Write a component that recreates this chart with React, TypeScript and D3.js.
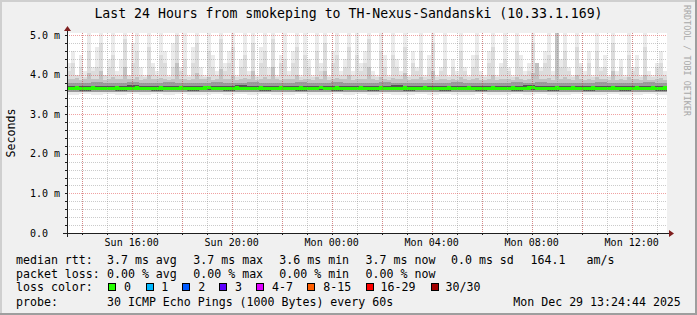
import React from "react";
import * as d3 from "d3";

const W = 697;
const H = 315;
const X0 = 67;
const XSIZE = 600;
const Y0 = 233;
const YSIZE = 200;
const YMAX = 5.05;

const startTime = new Date(Date.UTC(2025, 11, 28, 13, 24, 44));
const endTime = new Date(Date.UTC(2025, 11, 29, 13, 24, 44));

const yTickValues = [0, 1, 2, 3, 4, 5];
const yTickLabels = ["0.0", "1.0 m", "2.0 m", "3.0 m", "4.0 m", "5.0 m"];

// lightest smoke top (ms)
const maxMs = [
  4.3, 4.6, 4.0, 4.5, 4.1, 5.1, 4.2, 4.7, 5.1, 4.0,
  4.4, 5.1, 4.1, 4.4, 5.1, 4.0, 4.8, 5.1, 4.2, 4.0,
  5.1, 4.3, 4.1, 5.1, 4.6, 4.0, 4.8, 5.1, 4.2, 5.1,
  4.0, 4.7, 5.1, 4.2, 4.0, 5.1, 4.5, 4.1, 5.1, 4.3,
  4.6, 5.1, 4.0, 4.4, 5.1, 4.1, 5.1, 4.0, 4.7, 5.1,
  4.2, 5.1, 4.0, 4.5, 5.1, 4.1, 4.6, 5.1, 4.0, 5.1,
  4.4, 4.0, 5.1, 4.3, 5.1, 4.0, 4.6, 5.1, 4.1, 4.4,
  5.1, 4.1, 5.1, 4.3, 4.6, 5.1, 4.1, 4.0, 5.1, 4.5,
  4.0, 5.1, 4.4, 4.1, 5.1, 4.0, 4.6, 4.2, 5.1, 4.0,
  4.5, 5.1, 4.0, 4.2, 5.1, 4.0, 4.4, 4.1, 5.1, 4.2,
  4.0, 4.5, 5.1, 4.1, 4.0, 4.6, 5.1, 4.0, 4.3, 5.1,
  4.2, 4.0, 5.1, 4.5, 4.1, 4.3, 5.1, 4.0, 4.2, 4.6,
  5.1, 4.1, 5.1, 4.4, 5.1, 4.2, 4.0, 5.1, 4.3, 4.1,
  4.6, 4.0, 5.1, 4.2, 4.5, 4.0, 5.1, 4.1, 4.4, 4.0,
  5.1, 4.2, 4.5, 4.0, 5.1, 4.1, 4.0, 4.3, 4.6, 4.1,
];

// medium smoke top (ms)
const hiMs = [
  4.1, 4.3, 4.0, 4.2, 3.95, 4.6, 4.1, 4.2, 4.8, 4.0,
  4.2, 4.5, 4.0, 4.0, 4.9, 4.0, 4.3, 4.6, 4.0, 3.95,
  4.7, 4.2, 4.0, 4.5, 4.3, 3.95, 4.2, 5.0, 4.1, 4.4,
  3.95, 4.3, 4.8, 4.0, 3.95, 4.6, 4.2, 4.0, 4.9, 4.1,
  4.3, 4.7, 3.95, 4.2, 4.5, 4.0, 4.8, 3.95, 4.3, 4.6,
  4.0, 4.9, 3.95, 4.3, 4.4, 4.0, 4.3, 4.7, 3.95, 4.5,
  4.2, 3.95, 4.6, 4.1, 4.8, 3.95, 4.3, 4.5, 4.0, 4.2,
  4.7, 4.0, 4.5, 4.1, 4.3, 4.9, 4.0, 3.95, 4.6, 4.2,
  3.95, 4.5, 4.2, 4.0, 4.7, 3.95, 4.3, 4.1, 4.6, 3.95,
  4.2, 4.8, 3.95, 4.1, 4.4, 3.95, 4.2, 4.0, 4.6, 4.1,
  3.95, 4.2, 4.5, 4.0, 3.95, 4.3, 4.7, 3.95, 4.2, 4.4,
  4.1, 3.95, 4.6, 4.2, 4.0, 4.1, 4.8, 3.95, 4.1, 4.3,
  4.5, 4.0, 4.9, 4.2, 4.6, 4.1, 3.95, 4.7, 4.2, 4.0,
  4.3, 3.95, 4.6, 4.1, 4.2, 3.95, 4.8, 4.0, 4.2, 3.95,
  4.5, 4.1, 4.2, 3.95, 4.7, 4.0, 3.95, 4.2, 4.3, 4.0,
];

// darker smoke top (ms)
const midMs = [
  3.9, 3.88, 3.92, 3.87, 3.9, 4.05, 3.88, 3.9, 4.1, 3.87,
  3.9, 3.95, 3.88, 3.9, 4.2, 3.88, 3.9, 3.93, 3.87, 3.9,
  4.0, 3.88, 3.9, 3.92, 3.88, 3.87, 3.9, 4.3, 3.88, 3.9,
  3.87, 3.9, 4.05, 3.88, 3.9, 3.95, 3.87, 3.88, 4.15, 3.9,
  3.88, 3.97, 3.87, 3.9, 3.92, 3.88, 4.1, 3.87, 3.9, 3.93,
  3.88, 4.2, 3.9, 3.87, 3.9, 3.88, 3.9, 4.0, 3.87, 3.9,
  3.88, 3.87, 3.95, 3.9, 4.1, 3.87, 3.88, 3.92, 3.9, 3.88,
  4.0, 3.87, 3.9, 3.88, 3.9, 4.2, 3.88, 3.87, 3.95, 3.9,
  3.87, 3.92, 3.88, 3.9, 4.05, 3.87, 3.9, 3.88, 3.93, 3.87,
  3.9, 4.1, 3.87, 3.88, 3.9, 3.86, 3.88, 3.87, 3.95, 3.88,
  3.87, 3.9, 3.92, 3.87, 3.86, 3.9, 4.0, 3.87, 3.88, 3.9,
  3.88, 3.87, 3.95, 3.9, 3.87, 3.88, 4.05, 4.3, 3.88, 3.9,
  3.92, 3.87, 5.1, 3.9, 3.95, 3.88, 3.86, 4.0, 3.88, 3.87,
  3.9, 3.87, 3.95, 3.88, 3.9, 3.86, 4.1, 3.87, 3.88, 3.87,
  3.93, 3.88, 3.9, 3.86, 4.0, 3.87, 3.87, 3.9, 3.92, 3.87,
];

// lower edges and dark core, 50 bins (ms)
const minMs = [
  3.49, 3.5, 3.48, 3.5, 3.49, 3.51, 3.48, 3.5, 3.49, 3.5,
  3.48, 3.49, 3.5, 3.48, 3.51, 3.49, 3.5, 3.48, 3.49, 3.5,
  3.49, 3.48, 3.5, 3.49, 3.51, 3.48, 3.5, 3.49, 3.48, 3.5,
  3.49, 3.5, 3.48, 3.49, 3.5, 3.48, 3.49, 3.51, 3.48, 3.5,
  3.49, 3.48, 3.5, 3.49, 3.48, 3.5, 3.49, 3.48, 3.5, 3.49,
];
const loMs = [
  3.56, 3.57, 3.55, 3.57, 3.56, 3.57, 3.55, 3.56, 3.57, 3.56,
  3.55, 3.56, 3.57, 3.55, 3.57, 3.56, 3.56, 3.55, 3.57, 3.56,
  3.56, 3.55, 3.57, 3.56, 3.57, 3.55, 3.56, 3.57, 3.55, 3.56,
  3.56, 3.57, 3.55, 3.56, 3.57, 3.55, 3.56, 3.57, 3.55, 3.56,
  3.57, 3.55, 3.56, 3.56, 3.55, 3.57, 3.56, 3.55, 3.57, 3.56,
];
const upMs = [
  3.8, 3.79, 3.81, 3.78, 3.8, 3.82, 3.79, 3.8, 3.81, 3.79,
  3.8, 3.78, 3.81, 3.8, 3.79, 3.82, 3.8, 3.78, 3.8, 3.81,
  3.79, 3.8, 3.81, 3.78, 3.8, 3.79, 3.82, 3.8, 3.79, 3.8,
  3.78, 3.8, 3.81, 3.79, 3.8, 3.78, 3.8, 3.81, 3.79, 3.82,
  3.8, 3.79, 3.8, 3.78, 3.81, 3.8, 3.79, 3.8, 3.81, 3.79,
];
const coreLoMs = [
  3.6, 3.59, 3.6, 3.6, 3.59, 3.6, 3.6, 3.59, 3.6, 3.6,
  3.59, 3.6, 3.6, 3.59, 3.6, 3.6, 3.59, 3.6, 3.6, 3.59,
  3.6, 3.6, 3.59, 3.6, 3.6, 3.59, 3.6, 3.6, 3.59, 3.6,
  3.6, 3.59, 3.6, 3.6, 3.59, 3.6, 3.6, 3.59, 3.6, 3.6,
  3.59, 3.6, 3.6, 3.59, 3.6, 3.6, 3.59, 3.6, 3.6, 3.59,
];
const coreHiMs = [
  3.71, 3.72, 3.7, 3.72, 3.71, 3.73, 3.7, 3.72, 3.71, 3.72,
  3.71, 3.7, 3.72, 3.71, 3.73, 3.71, 3.7, 3.72, 3.71, 3.72,
  3.7, 3.71, 3.72, 3.71, 3.7, 3.72, 3.71, 3.73, 3.71, 3.7,
  3.72, 3.71, 3.7, 3.72, 3.71, 3.7, 3.72, 3.71, 3.73, 3.71,
  3.7, 3.72, 3.71, 3.7, 3.72, 3.71, 3.7, 3.72, 3.71, 3.72,
];

const medianMs = [
  3.65, 3.64, 3.66, 3.65, 3.64, 3.65, 3.66, 3.64, 3.65, 3.65,
  3.64, 3.65, 3.66, 3.65, 3.64, 3.64, 3.65, 3.66, 3.65, 3.64,
  3.65, 3.65, 3.64, 3.66, 3.65, 3.64, 3.65, 3.65, 3.66, 3.65,
  3.64, 3.65, 3.65, 3.64, 3.66, 3.67, 3.65, 3.64, 3.65, 3.65,
  3.64, 3.65, 3.66, 3.65, 3.64, 3.65, 3.65, 3.64, 3.66, 3.65,
  3.65, 3.64, 3.65, 3.66, 3.65, 3.64, 3.64, 3.65, 3.66, 3.65,
  3.64, 3.65, 3.65, 3.67, 3.65, 3.64, 3.65, 3.66, 3.65, 3.64,
  3.65, 3.65, 3.64, 3.66, 3.65, 3.65, 3.64, 3.65, 3.66, 3.65,
  3.64, 3.65, 3.65, 3.64, 3.66, 3.65, 3.64, 3.65, 3.65, 3.66,
  3.65, 3.64, 3.65, 3.65, 3.64, 3.66, 3.65, 3.65, 3.64, 3.65,
  3.66, 3.65, 3.64, 3.65, 3.65, 3.64, 3.66, 3.65, 3.65, 3.64,
  3.65, 3.66, 3.65, 3.64, 3.65, 3.66, 3.67, 3.65, 3.64, 3.65,
  3.65, 3.64, 3.66, 3.65, 3.64, 3.65, 3.66, 3.65, 3.65, 3.64,
  3.65, 3.66, 3.65, 3.64, 3.65, 3.65, 3.66, 3.64, 3.65, 3.65,
  3.64, 3.65, 3.66, 3.65, 3.65, 3.64, 3.66, 3.65, 3.65, 3.66,
];

const title = "Last 24 Hours from smokeping to TH-Nexus-Sandanski (10.33.1.169)";

const rttRow = [
  { text: "median rtt:", x: 16 },
  { text: "3.7 ms avg", x: 107 },
  { text: "3.7 ms max", x: 193.3 },
  { text: "3.6 ms min", x: 279.3 },
  { text: "3.7 ms now", x: 365.6 },
  { text: "0.0 ms sd", x: 451 },
  { text: "164.1", x: 530.6 },
  { text: "am/s", x: 586.6 },
];
const lossRow = [
  { text: "packet loss:", x: 16 },
  { text: "0.00 % avg", x: 107 },
  { text: "0.00 % max", x: 193.3 },
  { text: "0.00 % min", x: 279.3 },
  { text: "0.00 % now", x: 365.6 },
];
const lossColors = [
  { label: "0", color: "#26ff00", bx: 108.3, tx: 124 },
  { label: "1", color: "#00b8ff", bx: 145.6, tx: 161.3 },
  { label: "2", color: "#0059ff", bx: 182.3, tx: 198.3 },
  { label: "3", color: "#5e00ff", bx: 219, tx: 235 },
  { label: "4-7", color: "#dd00ff", bx: 256.3, tx: 272 },
  { label: "8-15", color: "#ff5e00", bx: 307.3, tx: 323.3 },
  { label: "16-29", color: "#ff0000", bx: 365.6, tx: 380.6 },
  { label: "30/30", color: "#a10000", bx: 430.6, tx: 445.6 },
];
const probeText = "30 ICMP Echo Pings (1000 Bytes) every 60s";
const stampText = "Mon Dec 29 13:24:44 2025";

const MONO = "'DejaVu Sans Mono', monospace";

function bins(values: number[], x: d3.ScaleTime<number, number>) {
  const n = values.length;
  const span = endTime.getTime() - startTime.getTime();
  return values.map((v, i) => {
    const t0 = new Date(startTime.getTime() + (span * i) / n);
    const t1 = new Date(startTime.getTime() + (span * (i + 1)) / n);
    return { v, i, x0: x(t0), x1: x(t1) };
  });
}

export default function App() {
  const x = d3.scaleTime().domain([startTime, endTime]).range([X0, X0 + XSIZE]);
  const y = d3.scaleLinear().domain([0, YMAX]).range([Y0, Y0 - YSIZE]);

  const minorX = d3.utcHour.every(1)!.range(startTime, endTime);
  const majorX = d3.utcHour.every(2)!.range(startTime, endTime);
  const labelX = d3.utcHour.every(4)!.range(startTime, endTime);
  const fmt = d3.utcFormat("%a %H:%M");

  const minorY = d3.range(1, 26).map((k) => k * 0.2).filter((v) => Math.abs(v - Math.round(v)) > 1e-6);

  const layer = (top: number[], bottom: number[], color: string, key: string) => {
    const tb = bins(top, x);
    const n = top.length;
    const m = bottom.length;
    return tb.map((b) => {
      const lo = bottom[Math.floor((b.i * m) / n)];
      const yt = y(Math.min(b.v, YMAX + 0.1));
      const yb = y(lo);
      return <rect key={key + b.i} x={b.x0} y={yt} width={b.x1 - b.x0} height={yb - yt} fill={color} />;
    });
  };

  const lowerLayer = (top: number[], bottom: number[], color: string, key: string) => {
    const bb = bins(bottom, x);
    return bb.map((b) => {
      const yt = y(top[b.i]);
      const yb = y(b.v);
      return <rect key={key + b.i} x={b.x0} y={yt} width={b.x1 - b.x0} height={yb - yt} fill={color} />;
    });
  };

  const medBins = bins(medianMs, x);
  const medPts = medBins.map((b) => ({ x: b.x0, v: b.v }));
  medPts.push({ x: X0 + XSIZE, v: medianMs[medianMs.length - 1] });
  const medArea = d3
    .area<{ x: number; v: number }>()
    .x((d) => d.x)
    .y0((d) => y(d.v) + 1.6)
    .y1((d) => y(d.v) - 1.6)
    .curve(d3.curveStepAfter);

  return (
    <div style={{ position: "absolute", left: 0, top: 0 }}>
      <svg width={W} height={H} xmlns="http://www.w3.org/2000/svg" style={{ display: "block" }}>
        <defs>
          <clipPath id="plot">
            <rect x={X0} y={Y0 - YSIZE} width={XSIZE} height={YSIZE} />
          </clipPath>
        </defs>
        <rect x={0} y={0} width={W} height={H} fill="#f0f0f0" />
        {/* frame shades */}
        <rect x={0} y={0} width={W} height={2} fill="#cfcfcf" />
        <rect x={0} y={0} width={2} height={H} fill="#cfcfcf" />
        <rect x={0} y={H - 2} width={W} height={2} fill="#9e9e9e" />
        <rect x={W - 2} y={0} width={2} height={H} fill="#9e9e9e" />

        <rect x={X0} y={Y0 - YSIZE} width={XSIZE} height={YSIZE} fill="#ffffff" />

        <g clipPath="url(#plot)" shapeRendering="crispEdges">
          {layer(maxMs, minMs, "#ebebeb", "a")}
          {layer(hiMs, loMs, "#dcdcdc", "b")}
          {layer(midMs, loMs, "#c2c2c2", "c")}
          {lowerLayer(upMs, loMs, "#9c9c9c", "d")}
          {lowerLayer(coreHiMs, coreLoMs, "#555555", "e")}
          <path d={medArea(medPts) || ""} fill="#26ff00" />
        </g>

        {/* grid */}
        <g shapeRendering="crispEdges" strokeDasharray="1,1">
          {minorX.map((t, i) => (
            <line key={"mx" + i} x1={x(t) + 0.5} x2={x(t) + 0.5} y1={Y0 - YSIZE} y2={Y0} stroke="rgba(140,140,140,0.45)" />
          ))}
          {minorY.map((v, i) => (
            <line key={"my" + i} x1={X0} x2={X0 + XSIZE} y1={Math.round(y(v)) + 0.5} y2={Math.round(y(v)) + 0.5} stroke="rgba(140,140,140,0.45)" />
          ))}
          {majorX.map((t, i) => (
            <line key={"Mx" + i} x1={x(t) + 0.5} x2={x(t) + 0.5} y1={Y0 - YSIZE} y2={Y0} stroke="rgba(222,48,48,0.45)" />
          ))}
          {yTickValues.slice(1).map((v, i) => (
            <line key={"My" + i} x1={X0} x2={X0 + XSIZE} y1={Math.round(y(v)) + 0.5} y2={Math.round(y(v)) + 0.5} stroke="rgba(222,48,48,0.45)" />
          ))}
        </g>

        {/* ticks */}
        <g shapeRendering="crispEdges" stroke="#1f1f1f">
          {minorX.map((t, i) => (
            <line key={"tx" + i} x1={x(t) + 0.5} x2={x(t) + 0.5} y1={Y0} y2={Y0 + 2} />
          ))}
          {minorY.concat(yTickValues).map((v, i) => (
            <line key={"ty" + i} x1={X0 - 2} x2={X0} y1={Math.round(y(v)) + 0.5} y2={Math.round(y(v)) + 0.5} />
          ))}
        </g>

        {/* axes */}
        <g shapeRendering="crispEdges" stroke="#1f1f1f">
          <line x1={X0 - 4} x2={X0 + XSIZE + 4} y1={Y0 + 0.5} y2={Y0 + 0.5} />
          <line x1={X0 + 0.5} x2={X0 + 0.5} y1={Y0 + 4} y2={Y0 - YSIZE - 4} />
        </g>
        <path d={`M${X0 + XSIZE + 2},${Y0 - 3} L${X0 + XSIZE + 7},${Y0 + 0.5} L${X0 + XSIZE + 2},${Y0 + 4} Z`} fill="#7f1f1f" />
        <path d={`M${X0 - 3},${Y0 - YSIZE - 2} L${X0 + 0.5},${Y0 - YSIZE - 7} L${X0 + 4},${Y0 - YSIZE - 2} Z`} fill="#7f1f1f" />

        {/* y labels */}
        <g fontFamily={MONO} fontSize={10} fill="#000">
          {yTickValues.map((v, i) => (
            <text key={"yl" + i} x={30} y={y(v) + 3.6}>
              {yTickLabels[i]}
            </text>
          ))}
          {labelX.map((t, i) => (
            <text key={"xl" + i} x={x(t)} y={246} textAnchor="middle">
              {fmt(t)}
            </text>
          ))}
        </g>

        <text x={W / 2} y={18} textAnchor="middle" fontFamily={MONO} fontSize={13.2} fill="#000">
          {title}
        </text>
        <text
          transform={`translate(14.5,133) rotate(-90)`}
          textAnchor="middle"
          fontFamily={MONO}
          fontSize={11.6}
          fill="#000"
        >
          Seconds
        </text>
        <text
          transform={`translate(684,5) rotate(90)`}
          fontFamily={MONO}
          fontSize={8.4}
          fill="#a8a8a8"
        >
          RRDTOOL / TOBI OETIKER
        </text>

        <g fontFamily={MONO} fontSize={11.6} fill="#000">
          {rttRow.map((s, i) => (
            <text key={"r" + i} x={s.x} y={263.5}>
              {s.text}
            </text>
          ))}
          {lossRow.map((s, i) => (
            <text key={"l" + i} x={s.x} y={277.5}>
              {s.text}
            </text>
          ))}
          <text x={16} y={291.3}>loss color:</text>
          {lossColors.map((c, i) => (
            <g key={"c" + i}>
              <rect x={Math.round(c.bx) + 0.5} y={283.5} width={7} height={7} fill={c.color} stroke="#000" strokeWidth={1} shapeRendering="crispEdges" />
              <text x={c.tx} y={291.3}>
                {c.label}
              </text>
            </g>
          ))}
          <text x={16} y={305.5}>probe:</text>
          <text x={107} y={305.5}>{probeText}</text>
          <text x={513.3} y={305.5}>{stampText}</text>
        </g>
      </svg>
    </div>
  );
}
